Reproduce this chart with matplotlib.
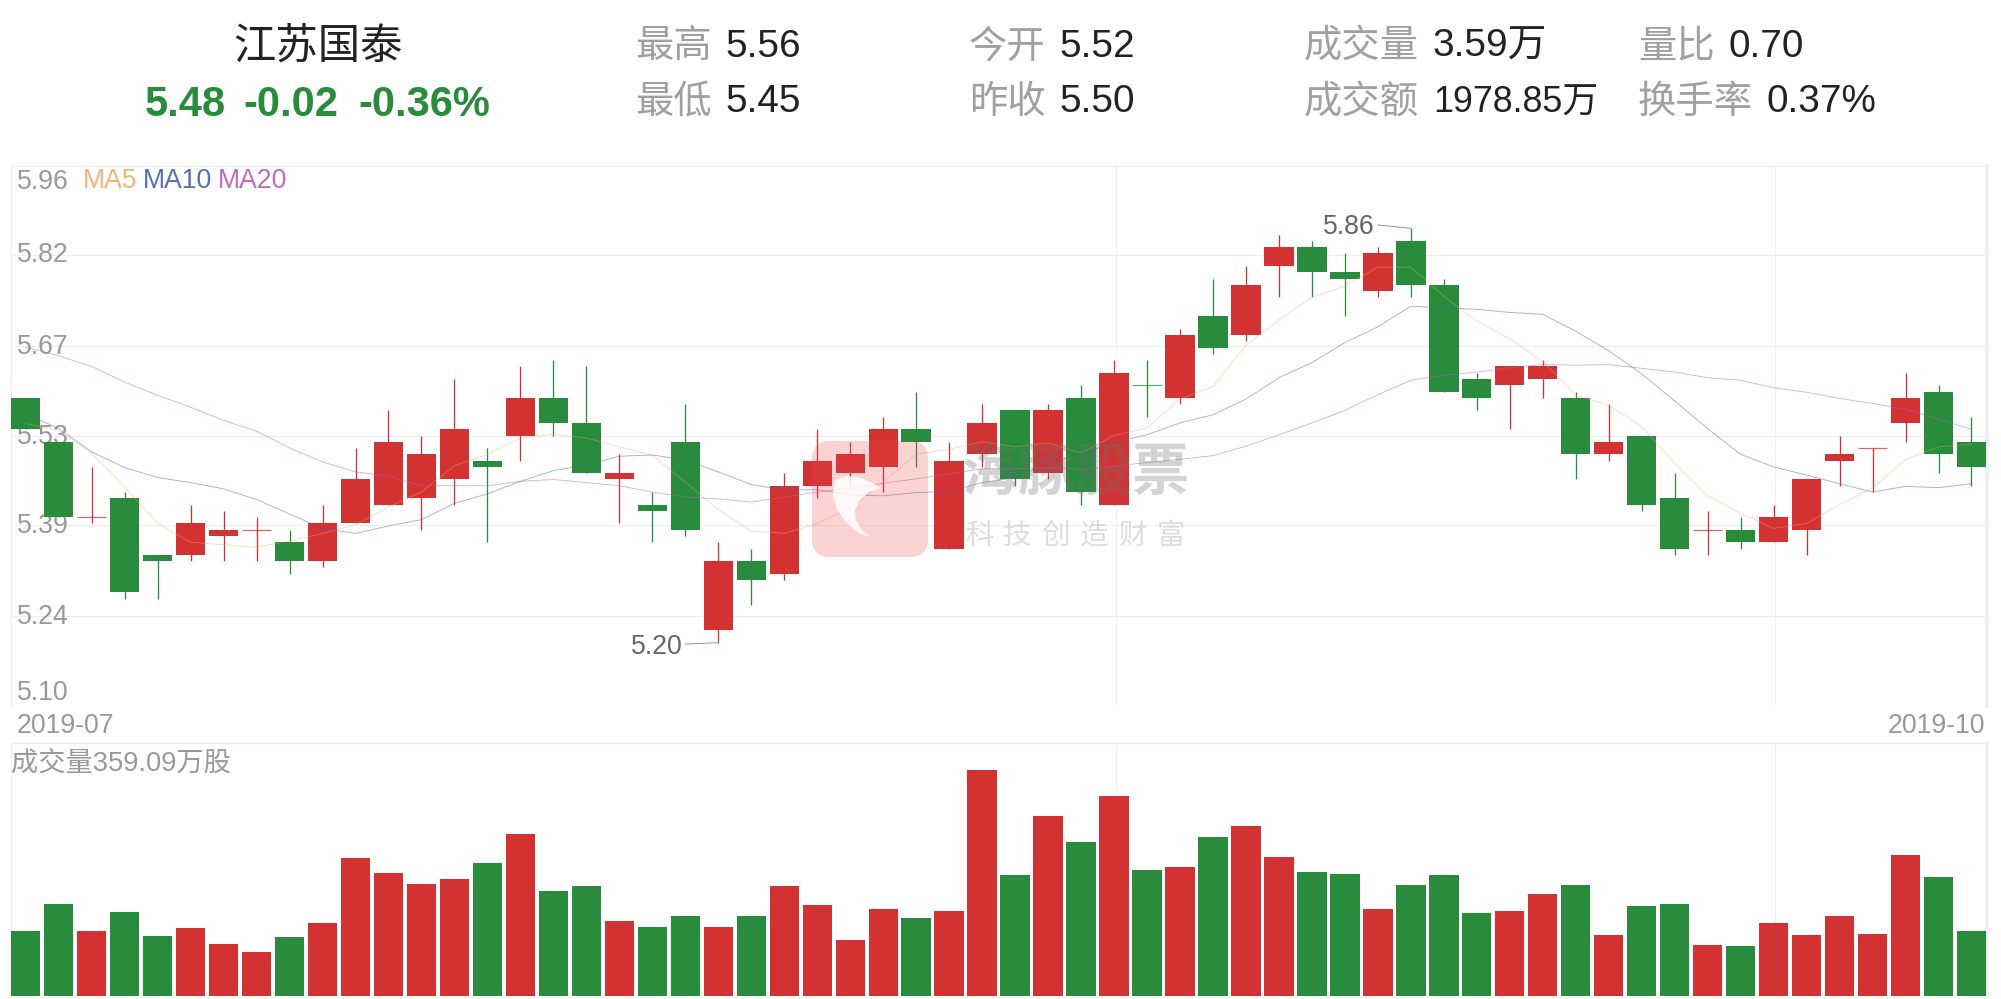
import matplotlib
matplotlib.use("Agg")
import matplotlib.pyplot as plt
from matplotlib.patches import FancyBboxPatch, Polygon
from matplotlib.transforms import ScaledTranslation

plt.rcParams['font.family'] = ['Liberation Sans', 'Noto Sans CJK SC', 'DejaVu Sans']

# ---- data ----
opens = [5.59,5.52,5.40,5.43,5.34,5.34,5.37,5.38,5.36,5.33,5.39,5.42,5.43,5.46,5.49,5.53,5.59,5.55,5.46,5.42,
         5.52,5.22,5.33,5.31,5.45,5.47,5.48,5.54,5.35,5.50,5.57,5.47,5.59,5.42,5.61,5.59,5.72,5.69,5.80,5.83,
         5.79,5.76,5.84,5.77,5.62,5.61,5.62,5.59,5.50,5.53,5.43,5.38,5.38,5.36,5.38,5.49,5.51,5.55,5.60,5.52]
closes = [5.54,5.40,5.40,5.28,5.33,5.39,5.38,5.38,5.33,5.39,5.46,5.52,5.50,5.54,5.48,5.59,5.55,5.47,5.47,5.41,
          5.38,5.33,5.30,5.45,5.49,5.50,5.54,5.52,5.49,5.55,5.46,5.57,5.44,5.63,5.61,5.69,5.67,5.77,5.83,5.79,
          5.78,5.82,5.77,5.60,5.59,5.64,5.64,5.50,5.52,5.42,5.35,5.38,5.36,5.40,5.46,5.50,5.51,5.59,5.50,5.48]
highs = [5.59,5.52,5.48,5.44,5.34,5.42,5.41,5.40,5.38,5.42,5.51,5.57,5.53,5.62,5.51,5.64,5.65,5.64,5.50,5.44,
         5.58,5.36,5.35,5.47,5.54,5.52,5.56,5.60,5.52,5.58,5.57,5.58,5.61,5.65,5.65,5.70,5.78,5.80,5.85,5.84,
         5.82,5.83,5.86,5.78,5.63,5.64,5.65,5.60,5.58,5.53,5.47,5.41,5.40,5.42,5.46,5.53,5.51,5.63,5.61,5.56]
lows = [5.54,5.40,5.39,5.27,5.27,5.33,5.33,5.33,5.31,5.32,5.39,5.42,5.38,5.42,5.36,5.49,5.53,5.47,5.39,5.36,
        5.37,5.20,5.26,5.30,5.43,5.45,5.44,5.48,5.35,5.48,5.45,5.46,5.42,5.42,5.56,5.58,5.66,5.68,5.75,5.75,
        5.72,5.75,5.75,5.60,5.57,5.54,5.59,5.46,5.49,5.41,5.34,5.34,5.35,5.36,5.34,5.45,5.44,5.52,5.47,5.45]
volumes = [359.09,509,359,465,331,376,287,242,326,404,764,681,620,648,737,898,581,609,415,381,
           442,381,442,609,503,309,481,431,470,1253,670,998,853,1109,698,714,881,942,770,687,
           676,481,615,670,459,470,565,615,337,498,509,281,276,404,337,442,342,781,659,359.09]
ma5 = [5.549,5.538,5.501,5.448,5.39,5.36,5.356,5.352,5.362,5.374,5.388,5.416,5.44,5.482,5.50,5.526,5.532,5.526,5.512,5.498,
       5.456,5.412,5.378,5.374,5.39,5.414,5.456,5.50,5.508,5.52,5.512,5.518,5.502,5.53,5.542,5.588,5.608,5.674,5.714,5.75,
       5.768,5.798,5.798,5.752,5.712,5.684,5.648,5.594,5.578,5.544,5.486,5.434,5.406,5.382,5.39,5.42,5.446,5.492,5.512,5.516]
ma10 = [5.565,5.541,5.504,5.479,5.463,5.455,5.445,5.428,5.405,5.382,5.374,5.386,5.396,5.422,5.437,5.457,5.474,5.483,5.497,5.499,
        5.491,5.472,5.452,5.443,5.444,5.435,5.434,5.439,5.441,5.455,5.463,5.487,5.501,5.519,5.531,5.55,5.563,5.588,5.622,5.646,
        5.678,5.703,5.736,5.733,5.731,5.726,5.723,5.696,5.665,5.628,5.585,5.541,5.50,5.48,5.467,5.453,5.44,5.449,5.447,5.453]
ma20 = [5.671,5.657,5.64,5.615,5.594,5.575,5.554,5.537,5.51,5.488,5.472,5.465,5.45,5.45,5.45,5.457,5.46,5.455,5.45,5.44,
        5.432,5.429,5.424,5.432,5.44,5.446,5.454,5.461,5.469,5.477,5.477,5.479,5.476,5.481,5.487,5.492,5.498,5.513,5.531,5.55,
        5.57,5.595,5.618,5.626,5.631,5.638,5.643,5.642,5.643,5.637,5.631,5.622,5.618,5.606,5.599,5.589,5.581,5.572,5.556,5.54]
price_ticks = [5.96,5.8167,5.6733,5.53,5.3867,5.2433,5.10]
price_labels = ['5.96','5.82','5.67','5.53','5.39','5.24','5.10']
date_grid = [33.05,53.05]
date_labels = ['2019-07','2019-10']
low_mark = (21,5.20,'5.20')
high_mark = (42,5.86,'5.86')
header_left = [('最高',635,47,'#a0a0a0'),('最低',635,103,'#a0a0a0'),('今开',969,47,'#a0a0a0'),('昨收',969,103,'#a0a0a0'),
               ('成交量',1304,47,'#a0a0a0'),('成交额',1304,103,'#a0a0a0'),('量比',1638,47,'#a0a0a0'),('换手率',1638,103,'#a0a0a0')]
header_vals = [('5.56',725,47,27.9),('5.45',725,102,27.9),('5.52',1059,47,27.9),('5.50',1059,102,27.9),
               ('3.59万',1433,47,27.9),('1978.85万',1433,103,25.8),('0.70',1728,47,27.9),('0.37%',1767,102,27.9)]

RED = '#d23232'
GREEN = '#288c3c'
W, H = 2001, 999
fig = plt.figure(figsize=(W/100, H/100), dpi=100, facecolor='white')
px = 0.72

def make_ax(top, bottom):
    a = fig.add_axes([11/W, 1-bottom/H, 1976/W, (bottom-top)/H])
    a.set_xlim(-0.446, 59.47)
    a.set_axisbelow(True)
    a.set_xticks(date_grid)
    a.tick_params(axis='both', length=0, labelbottom=False)
    a.grid(True, axis='x', color='#f0f0f0', lw=1*px)
    for s in a.spines.values():
        s.set_color('#eeeeee'); s.set_linewidth(1.2*px)
    a.spines['bottom'].set_visible(False)
    a.spines['right'].set_color('#eeeef5'); a.spines['right'].set_linewidth(3.5*px)
    return a

ax = make_ax(165.5, 705.5)
ax.set_ylim(5.10, 5.96)
ax.set_yticks(price_ticks)
ax.set_yticklabels(price_labels, fontsize=19.2, color='#999999', ha='left')
ax.tick_params(axis='y', pad=-6*px)
ax.grid(True, axis='y', color='#eeeeee', lw=1*px)
for lab, va, dy in zip(ax.get_yticklabels(), ['top']+['center']*5+['bottom'], [3, 0, 1, 1, 1, 1, 0]):
    lab.set_va(va)
    lab.set_transform(lab.get_transform() + ScaledTranslation(0, -dy/100, fig.dpi_scale_trans))

n = len(opens)
rising = []
for i in range(n):
    if closes[i] != opens[i]:
        rising.append(closes[i] > opens[i])
    else:
        rising.append(i == 0 or closes[i] >= closes[i-1])
colors = [RED if r else GREEN for r in rising]
xs = list(range(n))

ax.vlines(xs, lows, highs, colors=colors, lw=1.3*px, zorder=3)
for i in xs:
    if opens[i] == closes[i]:
        ax.hlines(opens[i], i-0.445, i+0.445, colors=colors[i], lw=1.2*px, zorder=3, alpha=0.75)
body_x = [i for i in xs if opens[i] != closes[i]]
ax.bar(body_x, [abs(closes[i]-opens[i]) for i in body_x], bottom=[min(opens[i], closes[i]) for i in body_x],
       width=0.89, color=[colors[i] for i in body_x], zorder=4)

ax.plot(xs, ma5, color='#f5a860', lw=0.9*px, alpha=0.42, zorder=5)
ax.plot(xs, ma10, color='#4a62a8', lw=0.9*px, alpha=0.5, zorder=5)
ax.plot(xs, ma20, color='#b860b0', lw=0.9*px, alpha=0.5, zorder=5)

for (ix, val, txt), off in ((low_mark, (-36, -4)), (high_mark, (-36, 1))):
    ax.annotate(txt, xy=(ix, val), xytext=off, textcoords='offset pixels', ha='right', va='center',
                fontsize=19.2, color='#666666',
                arrowprops=dict(arrowstyle='-', color='#999999', lw=1*px, shrinkA=0, shrinkB=0, relpos=(1, 0.6)), zorder=6)

vx = make_ax(743, 996)
vx.set_ylim(0, 1403)
vx.set_yticks([])
vx.bar(xs, volumes, width=0.89, color=colors, zorder=4)

# overlay in pixel coordinates for header, legend, date labels and watermark
ov = fig.add_axes([0, 0, 1, 1], zorder=10)
ov.set_xlim(0, W); ov.set_ylim(H, 0); ov.axis('off'); ov.patch.set_alpha(0)

ov.text(318, 48, '江苏国泰', fontsize=30.5, color='#222222', ha='center', va='center')
for txt, x in (('5.48', 145), ('-0.02', 243), ('-0.36%', 358)):
    ov.text(x, 105, txt, fontsize=30, fontweight='bold', color=GREEN, ha='left', va='center')
for txt, x, y, c in header_left:
    ov.text(x, y, txt, fontsize=27.6, color=c, ha='left', va='center')
for txt, x, y, fs in header_vals:
    ov.text(x, y, txt, fontsize=fs, color='#222222', ha='left', va='center')

for txt, x, c in (('MA5', 83, '#f8b478'), ('MA10', 143, '#5470b5'), ('MA20', 218, '#c868b8')):
    ov.text(x, 181, txt, fontsize=19.2, color=c, ha='left', va='center')
ov.text(17, 726, date_labels[0], fontsize=19.2, color='#999999', ha='left', va='center')
ov.text(1985, 726, date_labels[1], fontsize=19.2, color='#999999', ha='right', va='center')
ov.text(11, 764, '成交量359.09万股', fontsize=19.6, color='#999999', ha='left', va='center')

# watermark
ov.add_patch(FancyBboxPatch((826, 455), 88, 88, boxstyle='round,pad=14,rounding_size=18',
                            fc='#f04a4a', ec='none', alpha=0.24, zorder=2))
swoosh_crop = [(165,180),(158,220),(170,265),(195,305),(235,338),(272,352),(245,330),(228,300),(225,270),(240,240),
               (270,215),(305,205),(280,190),(240,172),(200,168)]
ov.add_patch(Polygon([(780+a/3, 420+b/3) for a, b in swoosh_crop], closed=True, fc='white', ec='none', alpha=0.85, zorder=3))
ov.text(1075, 475, '海豚股票', fontsize=41, fontweight='bold', color='#707070', alpha=0.3, ha='center', va='center')
for i, ch in enumerate('科技创造财富'):
    ov.text(979 + i*38.4, 537, ch, fontsize=20.5, color='#909090', alpha=0.3, ha='center', va='center')

fig.savefig('out.png', dpi=100, facecolor='white')
